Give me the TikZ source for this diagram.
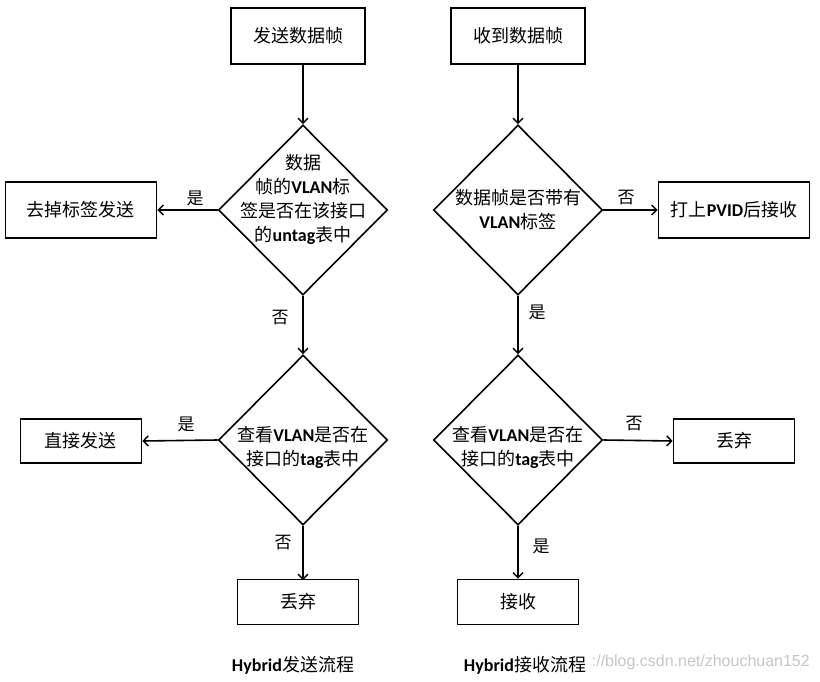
\documentclass[tikz,border=0pt]{standalone}
\usepackage{fontspec}
\setmainfont{Noto Sans CJK SC}
\newfontfamily\latinf{Carlito}
\newfontfamily\wmfont{Liberation Sans}
\newcommand\en[1]{{\latinf\bfseries #1}}
\usetikzlibrary{shapes.geometric,arrows.meta}
\begin{document}
\begin{tikzpicture}[x=1pt,y=-1pt,
  every node/.style={font=\fontsize{18}{24}\selectfont},
  box/.style={draw,line width=1.6pt,inner sep=0pt},
  dia/.style={draw,diamond,line width=1.6pt,inner sep=0pt,minimum width=169pt,minimum height=170pt},
  dtext/.style={align=center,inner sep=0pt},
  lbl/.style={font=\fontsize{17}{20}\selectfont,inner sep=0pt},
  arr/.style={line width=1.6pt,-{Straight Barb[length=5pt,width=10pt,line width=1.4pt]}},
  ln/.style={line width=1.6pt}]
\useasboundingbox[fill=white] (0,0) rectangle (820,682);

% left column
\node[box,minimum width=134pt,minimum height=56pt] (s1) at (298,36) {发送数据帧};
\node[dia] (d1) at (303,210) {};
\node[dtext] (d1t) at (303,199) {数据\\帧的\en{VLAN}标\\签是否在该接口\\的\en{untag}表中};
\node[box,minimum width=151pt,minimum height=56pt] (b1) at (81,210) {去掉标签发送};
\node[dia] (d2) at (303,440) {};
\node[dtext] (d2t) at (303,447) {查看\en{VLAN}是否在\\接口的\en{tag}表中};
\node[box,minimum width=121pt,minimum height=44pt] (b2) at (81,441) {直接发送};
\node[box,minimum width=121pt,minimum height=45pt] (b3) at (298,602) {丢弃};

\draw[arr] (303,64) -- (d1.north);
\draw[arr] (d1.west) -- (b1.east);
\draw[arr] (d1.south) -- (d2.north);
\draw[arr] (d2.west) -- (b2.east);
\draw[arr] (d2.south) -- (303,580);

\node[lbl] (l1) at (195,198) {是};
\node[lbl] (l2) at (280,318) {否};
\node[lbl] (l3) at (186,424) {是};
\node[lbl] (l4) at (283,543) {否};

% right column
\node[box,minimum width=134pt,minimum height=56pt] (s2) at (518,36) {收到数据帧};
\node[dia] (d3) at (518,210) {};
\node[dtext] (d3t) at (518,210) {数据帧是否带有\\\en{VLAN}标签};
\node[box,minimum width=151pt,minimum height=56pt] (b4) at (734,210) {打上\en{PVID}后接收};
\node[dia] (d4) at (518,440) {};
\node[dtext] (d4t) at (518,447) {查看\en{VLAN}是否在\\接口的\en{tag}表中};
\node[box,minimum width=121pt,minimum height=44pt] (b5) at (734,441) {丢弃};
\node[box,minimum width=121pt,minimum height=45pt] (b6) at (518,602) {接收};

\draw[arr] (s2.south) -- (d3.north);
\draw[arr] (d3.east) -- (b4.west);
\draw[arr] (d3.south) -- (d4.north);
\draw[arr] (d4.east) -- (b5.west);
\draw[arr] (d4.south) -- (b6.north);

\node[lbl] (l5) at (626,198) {否};
\node[lbl] (l6) at (537,312) {是};
\node[lbl] (l7) at (634,424) {否};
\node[lbl] (l8) at (541,546) {是};

% titles and watermark
\node[anchor=east,text=black!22,font=\wmfont\fontsize{16}{19}\selectfont,inner sep=0pt] (wm) at (810,662) {://blog.csdn.net/zhouchuan152};
\node[inner sep=0pt] (t1) at (293,665) {\en{Hybrid}发送流程};
\node[inner sep=0pt] (t2) at (525,665) {\en{Hybrid}接收流程};
\end{tikzpicture}
\end{document}
